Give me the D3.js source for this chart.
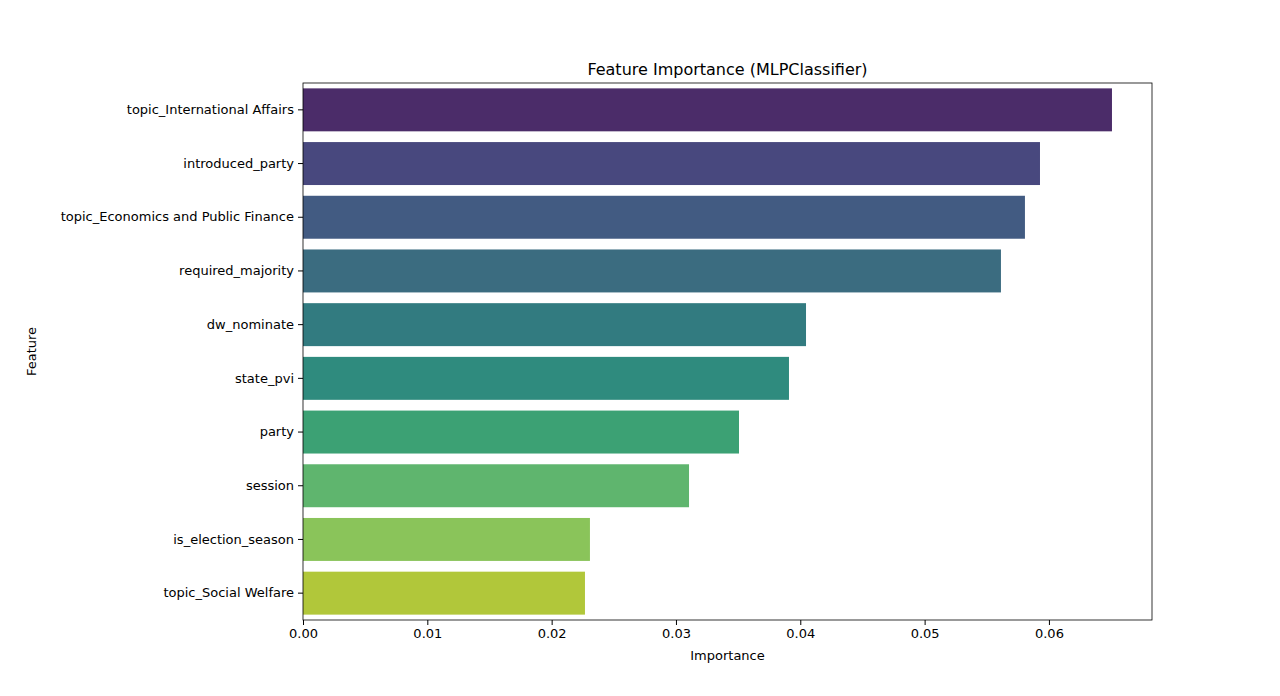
<!DOCTYPE html>
<html><head><meta charset="utf-8">
<script src="https://cdn.jsdelivr.net/npm/d3@7"></script>
<style>body{margin:0;background:#fff}text{font-family:"DejaVu Sans",sans-serif}</style>
</head><body><svg id="c" width="1280" height="696"></svg>
<script>
const features=["topic_International Affairs","introduced_party","topic_Economics and Public Finance","required_majority","dw_nominate","state_pvi","party","session","is_election_season","topic_Social Welfare"];
const importance=[0.06507,0.05928,0.05807,0.05614,0.04046,0.03909,0.03507,0.03105,0.02308,0.02268];
const colors=["#4b2c69","#48487e","#425b82","#3b6c80","#327b80","#2f8b7e","#3ca174","#5fb56e","#8ac45a","#b1c73a"];
const xTicks=[0,0.01,0.02,0.03,0.04,0.05,0.06];
const L=303,R=1152,T=83,B=620;
const svg=d3.select("#c");
const x=d3.scaleLinear().domain([0,0.06829]).range([L,R]);
const y=d3.scaleBand().domain(features).range([T,B]).paddingInner(0.2).paddingOuter(0.1);
svg.selectAll("rect.b").data(features).join("rect").attr("x",x(0)).attr("y",d=>y(d))
 .attr("width",(d,i)=>x(importance[i])-x(0)).attr("height",y.bandwidth()).attr("fill",(d,i)=>colors[i]);
const xa=svg.append("g").attr("transform",`translate(0,${B})`).call(d3.axisBottom(x).tickValues(xTicks).tickFormat(d3.format(".2f")).tickSize(5).tickPadding(4));
xa.select(".domain").remove();
const ya=svg.append("g").attr("transform",`translate(${L},0)`).call(d3.axisLeft(y).tickSize(5).tickPadding(4));
ya.select(".domain").remove();
svg.selectAll(".tick text").attr("font-size",13).attr("fill","#000").attr("font-family","DejaVu Sans");
xa.selectAll(".tick text").text(d=>d===0?"0.00":d3.format(".2f")(d));
svg.append("rect").attr("x",L).attr("y",T).attr("width",R-L).attr("height",B-T).attr("fill","none").attr("stroke","#000").attr("stroke-width",0.8);
svg.append("text").attr("x",(L+R)/2).attr("y",75).attr("text-anchor","middle").attr("font-size",16).text("Feature Importance (MLPClassifier)");
svg.append("text").attr("x",(L+R)/2).attr("y",660).attr("text-anchor","middle").attr("font-size",13).text("Importance");
svg.append("text").attr("transform",`translate(36,${(T+B)/2}) rotate(-90)`).attr("text-anchor","middle").attr("font-size",13).text("Feature");
</script></body></html>
